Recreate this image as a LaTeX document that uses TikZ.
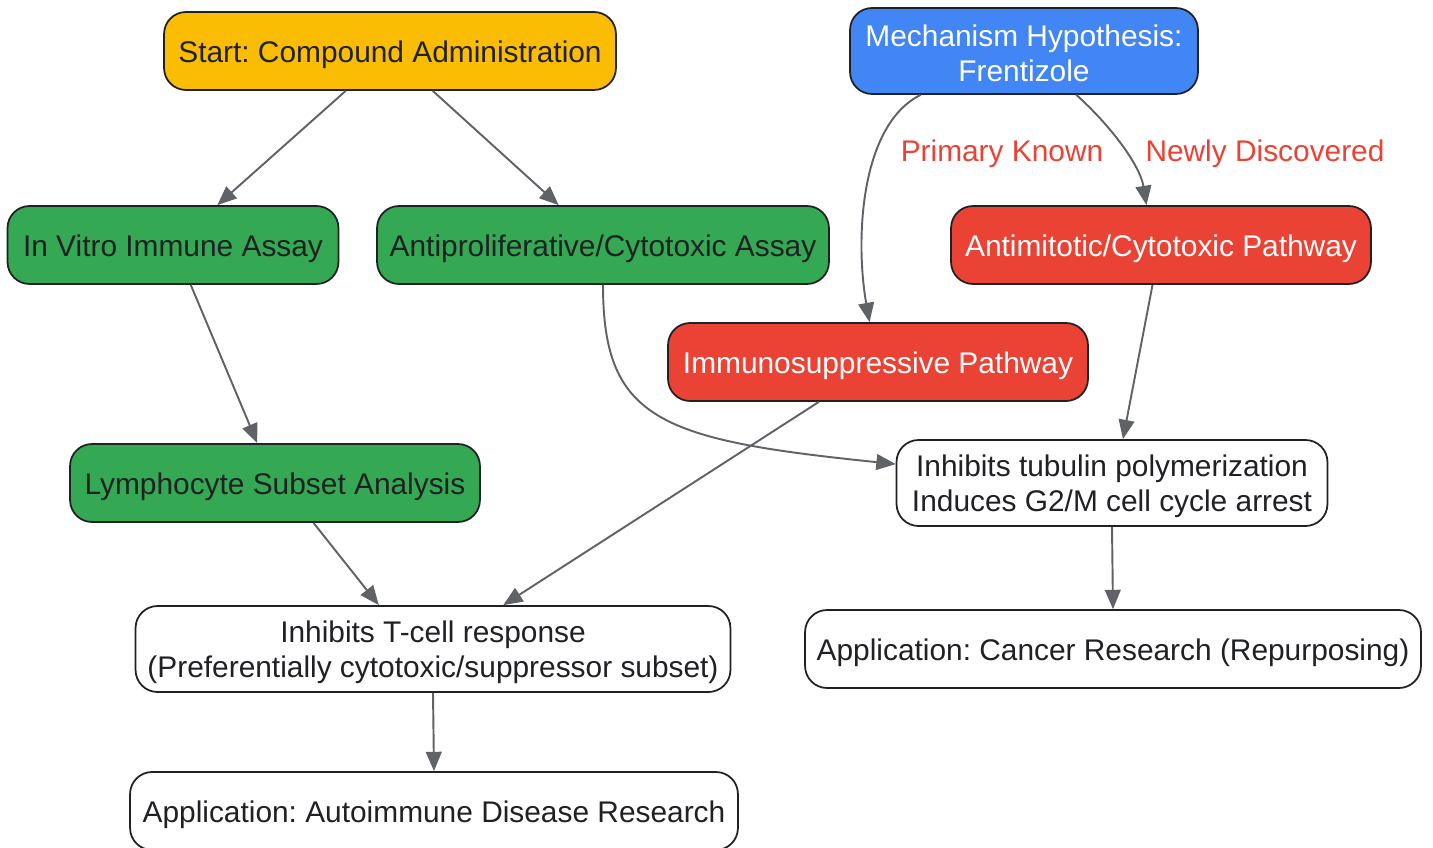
\documentclass[tikz,border=0pt]{standalone}
\usepackage{fontspec}
\setmainfont{Liberation Sans}
\frenchspacing
\usetikzlibrary{arrows.meta}
\definecolor{startyellow}{HTML}{FBBC04}
\definecolor{mechblue}{HTML}{4285F4}
\definecolor{assaygreen}{HTML}{34A853}
\definecolor{pathred}{HTML}{EA4335}
\definecolor{edgegray}{HTML}{5F6368}
\definecolor{inkdark}{HTML}{202124}
\newcommand{\liftline}[1]{\rule{0pt}{#1em}}

\begin{document}
\begin{tikzpicture}[x=0.02cm,y=-0.02cm,
  box/.style={draw=inkdark,line width=1pt,rounded corners=0.44cm,align=center,
    inner xsep=4pt,minimum height=1.56cm,font=\fontsize{17}{20}\selectfont,text=inkdark,
    execute at begin node={\rule{0pt}{1em}}},
  tall/.style={minimum height=1.72cm,inner ysep=1pt},
  edge/.style={draw=edgegray,line width=1.1pt,-{Triangle[length=11pt,width=9pt]}},
  elabel/.style={text=pathred,font=\fontsize{17}{20}\selectfont}]
\useasboundingbox (0,0) rectangle (1433,848);

\node[box,fill=startyellow,minimum width=9.04cm] (start) at (390,51) {Start: Compound Administration};
\node[box,tall,fill=mechblue,text=white,minimum width=6.96cm] (mech) at (1024,51) {\liftline{0.87}Mechanism Hypothesis:\\Frentizole};

\node[box,fill=assaygreen,minimum width=6.62cm] (vitro) at (173,245) {In Vitro Immune Assay};
\node[box,fill=assaygreen,minimum width=9.04cm] (anti) at (603,245) {Antiproliferative/Cytotoxic Assay};
\node[box,fill=pathred,text=white,minimum width=8.4cm] (antimit) at (1161,245) {Antimitotic/Cytotoxic Pathway};

\node[box,fill=pathred,text=white,minimum width=8.4cm] (immuno) at (878,362) {Immunosuppressive Pathway};

\node[box,fill=assaygreen,minimum width=8.2cm] (lymph) at (275,483) {Lymphocyte Subset Analysis};
\node[box,tall,fill=white,minimum width=8.62cm] (tubulin) at (1112,483) {\liftline{0.97}Inhibits tubulin polymerization\\Induces G2/M cell cycle arrest};

\node[box,tall,fill=white,minimum width=11.9cm] (tcell) at (433,649) {\liftline{0.97}Inhibits T-cell response\\(Preferentially cytotoxic/suppressor subset)};
\node[box,fill=white,minimum width=12.32cm] (cancer) at (1113,649) {Application: Cancer Research (Repurposing)};

\node[box,fill=white,minimum width=12.16cm] (autoimm) at (434,811) {Application: Autoimmune Disease Research};

% assay branch
\draw[edge] (start.222) -- (vitro.42);
\draw[edge] (start.-43) -- (anti.138);
\draw[edge] (vitro.-66) -- (lymph.114);
\draw[edge] (lymph.-46) -- (tcell.141);
\draw[edge] (anti.south) .. controls (603,420) and (660,440) .. (tubulin.175);

% hypothesis branch
\draw[edge] (mech.203) .. controls (860,125) and (855,240) .. (immuno.102);
\draw[edge] (mech.-40) .. controls (1110,125) and (1140,165) .. (antimit.110);
\node[elabel] (known) at (1002,154) {Primary Known};
\node[elabel] (newly) at (1265,154) {Newly Discovered};

\draw[edge] (antimit.-102) -- (tubulin.76);
\draw[edge] (immuno.214) -- (tcell.32);

\draw[edge] (tcell.south) -- (autoimm.north);
\draw[edge] (tubulin.south) -- (cancer.north);

\end{tikzpicture}
\end{document}
